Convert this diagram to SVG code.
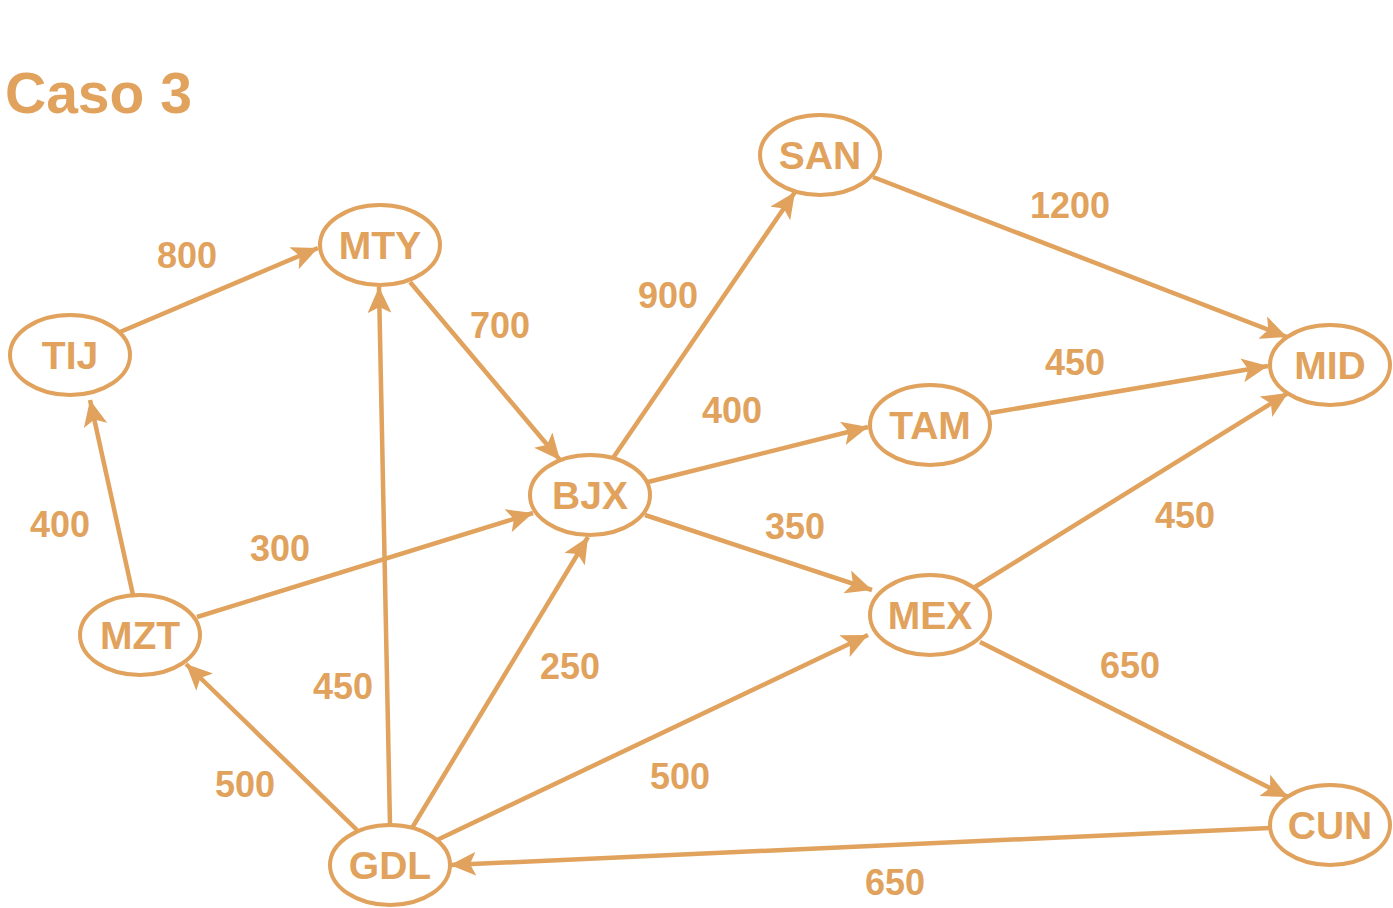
<svg xmlns="http://www.w3.org/2000/svg" width="1393" height="908" viewBox="0 0 1393 908">
<style>
.n ellipse{fill:#fff;stroke:#E0A25C;stroke-width:4}
text{font-family:"Liberation Sans",Arial,sans-serif;font-weight:bold;fill:#E0A25C;text-anchor:middle}
.n text{font-size:39px}
.l{font-size:36px}
.e line{stroke:#E0A25C;stroke-width:4.5;marker-end:url(#a)}
</style>
<defs>
<marker id="a" markerUnits="userSpaceOnUse" markerWidth="28" markerHeight="24" viewBox="0 0 28 24" refX="26" refY="12" orient="auto">
<path d="M0,0 L26,12 L0,24 L6,12 Z" fill="#E0A25C"/>
</marker>
</defs>
<rect width="1393" height="908" fill="#fff"/>
<text x="5" y="113" style="font-size:57px;text-anchor:start">Caso 3</text>
<g class="e" id="edges">
<line x1="120" y1="332" x2="318" y2="248"/>
<line x1="410" y1="282" x2="560" y2="460"/>
<line x1="613" y1="458" x2="795" y2="192"/>
<line x1="873" y1="177" x2="1287" y2="337"/>
<line x1="990" y1="413" x2="1268" y2="366"/>
<line x1="648" y1="482" x2="868" y2="427"/>
<line x1="645" y1="515" x2="872" y2="590"/>
<line x1="975" y1="587" x2="1288" y2="393"/>
<line x1="980" y1="642" x2="1288" y2="797"/>
<line x1="1270" y1="828" x2="450" y2="865"/>
<line x1="437" y1="840" x2="868" y2="635"/>
<line x1="412" y1="828" x2="588" y2="537"/>
<line x1="390" y1="825" x2="379" y2="287"/>
<line x1="357" y1="830" x2="186" y2="664"/>
<line x1="197" y1="617" x2="533" y2="513"/>
<line x1="133" y1="595" x2="90" y2="400"/>
</g>
<g id="labels">
<text class="l" x="187" y="268">800</text>
<text class="l" x="500" y="338">700</text>
<text class="l" x="668" y="308">900</text>
<text class="l" x="1070" y="218">1200</text>
<text class="l" x="1075" y="375">450</text>
<text class="l" x="732" y="423">400</text>
<text class="l" x="795" y="539">350</text>
<text class="l" x="1185" y="528">450</text>
<text class="l" x="1130" y="678">650</text>
<text class="l" x="895" y="895">650</text>
<text class="l" x="680" y="789">500</text>
<text class="l" x="570" y="679">250</text>
<text class="l" x="343" y="699">450</text>
<text class="l" x="245" y="797">500</text>
<text class="l" x="280" y="561">300</text>
<text class="l" x="60" y="537">400</text>
</g>
<g class="n" id="MTY"><ellipse cx="380" cy="245" rx="60" ry="40"/><text x="380" y="259">MTY</text></g>
<g class="n" id="TIJ"><ellipse cx="70" cy="355" rx="60" ry="40"/><text x="70" y="369">TIJ</text></g>
<g class="n" id="SAN"><ellipse cx="820" cy="155" rx="60" ry="40"/><text x="820" y="169">SAN</text></g>
<g class="n" id="MID"><ellipse cx="1330" cy="365" rx="60" ry="40"/><text x="1330" y="379">MID</text></g>
<g class="n" id="TAM"><ellipse cx="930" cy="425" rx="60" ry="40"/><text x="930" y="439">TAM</text></g>
<g class="n" id="BJX"><ellipse cx="590" cy="495" rx="60" ry="40"/><text x="590" y="509">BJX</text></g>
<g class="n" id="MEX"><ellipse cx="930" cy="615" rx="60" ry="40"/><text x="930" y="629">MEX</text></g>
<g class="n" id="MZT"><ellipse cx="140" cy="635" rx="60" ry="40"/><text x="140" y="649">MZT</text></g>
<g class="n" id="CUN"><ellipse cx="1330" cy="825" rx="60" ry="40"/><text x="1330" y="839">CUN</text></g>
<g class="n" id="GDL"><ellipse cx="390" cy="865" rx="60" ry="40"/><text x="390" y="879">GDL</text></g>
</svg>
